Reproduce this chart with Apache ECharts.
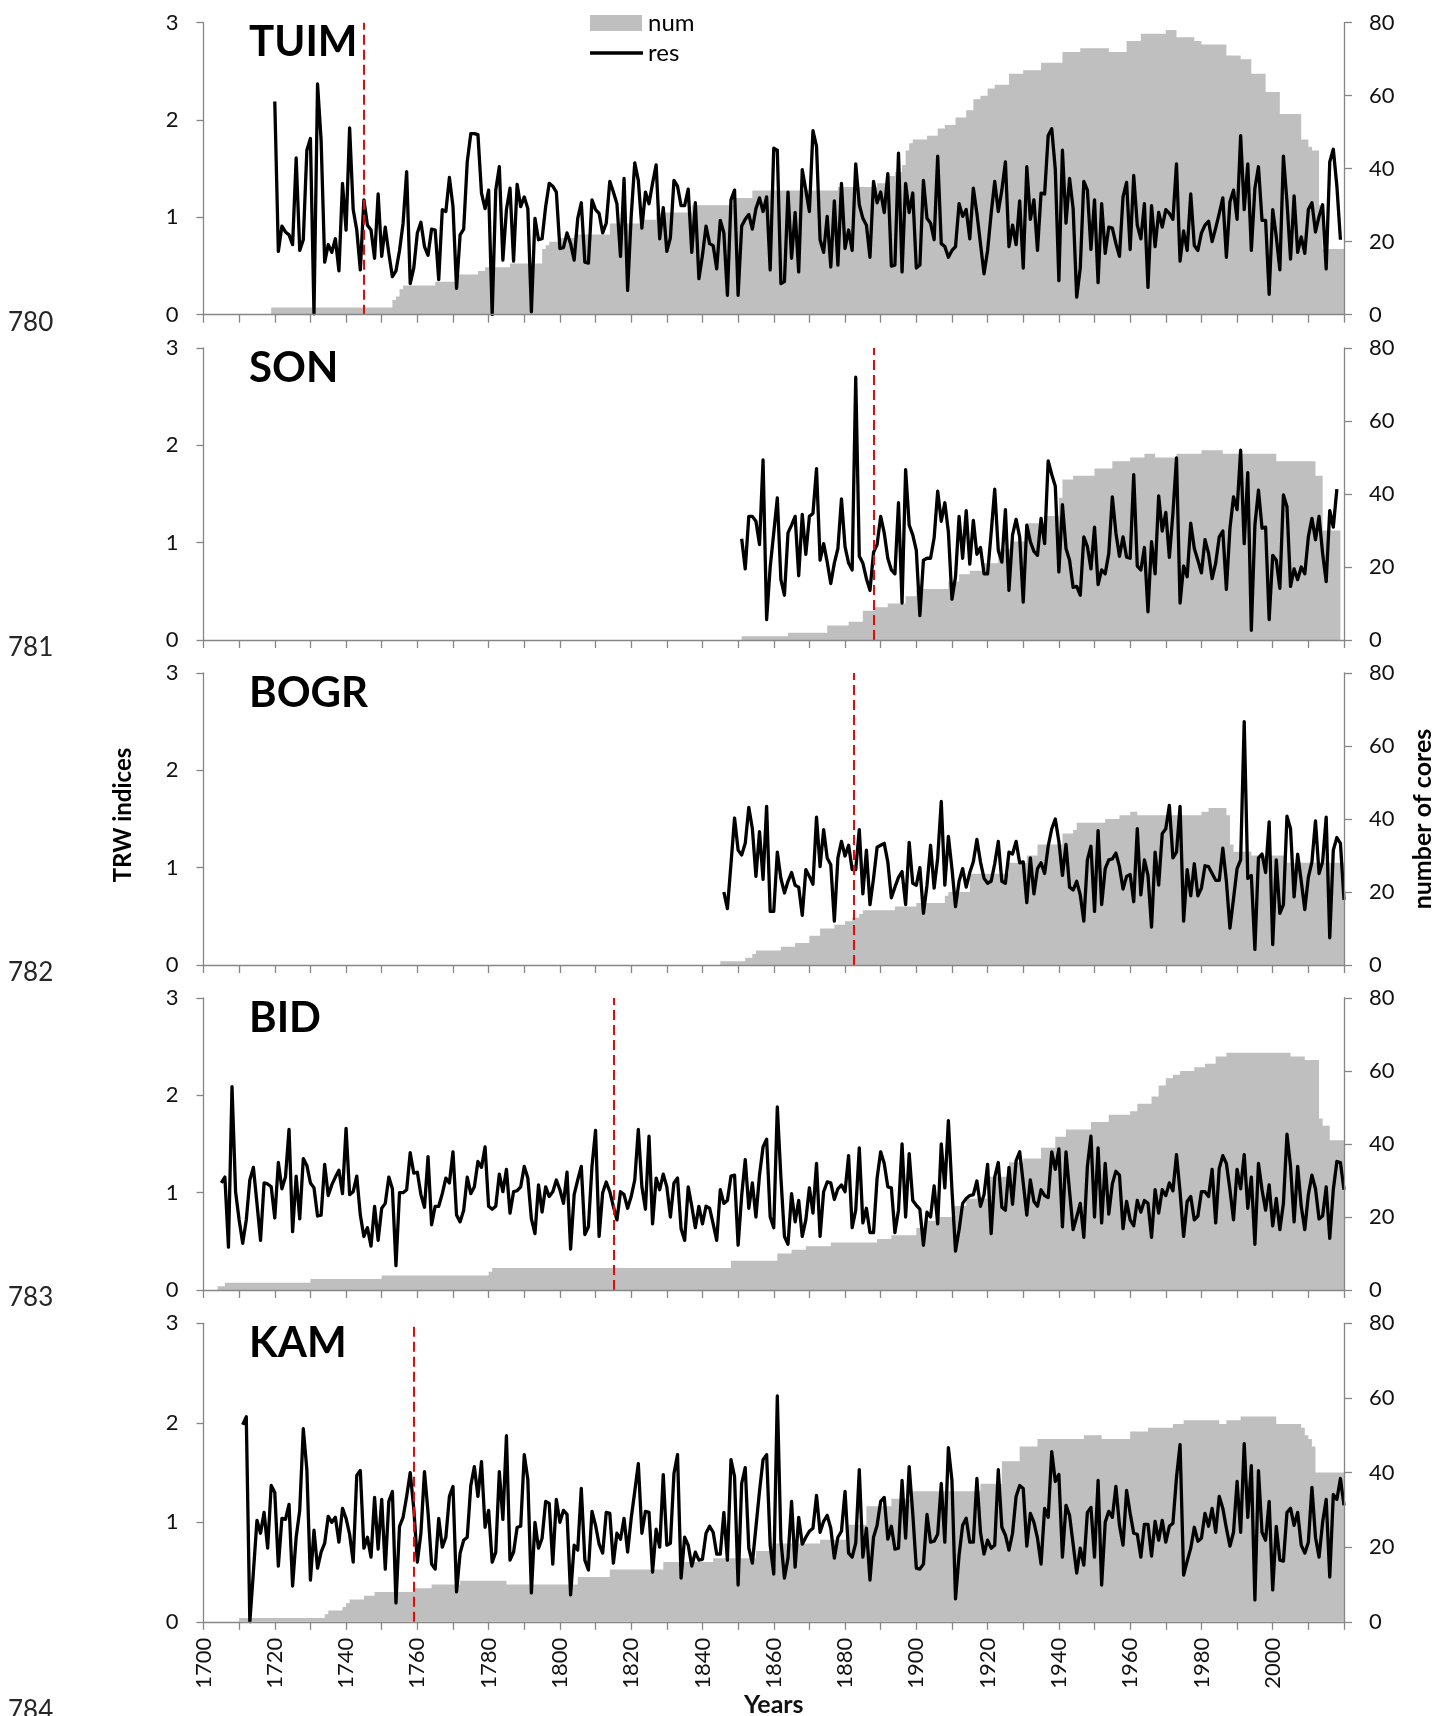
<!DOCTYPE html>
<html>
<head>
<meta charset="utf-8">
<title>TRW indices and number of cores</title>
<script src="https://cdn.jsdelivr.net/npm/echarts@6/dist/echarts.min.js"></script>
<style>
  html, body { margin: 0; padding: 0; background: #fff; }
  #chart { width: 1452px; height: 1716px; }
</style>
</head>
<body>
<div id="chart"></div>
<script>
// site names, first year of each res chronology and the red cut-off year
const sites = ['TUIM', 'SON', 'BOGR', 'BID', 'KAM']
const resStart = [1720, 1851, 1846, 1705, 1711]
const cutYears = [1745, 1888, 1882.5, 1815, 1759]
const lineNumbers = ['780', '781', '782', '783', '784']

// res (TRW indices), one value per year
const tuimRes = [
  2.19,0.65,0.91,0.85,0.82,0.72,1.61,0.66,0.77,1.69,
  1.81,0.01,2.37,1.79,0.54,0.72,0.64,0.78,0.45,1.35,
  0.87,1.92,1.08,0.87,0.46,1.18,0.92,0.87,0.58,1.24,
  0.60,0.90,0.63,0.39,0.45,0.66,0.94,1.47,0.32,0.48,
  0.84,0.95,0.70,0.61,0.88,0.87,0.36,1.08,1.06,1.41,
  1.11,0.27,0.82,0.88,1.57,1.86,1.86,1.85,1.25,1.09,
  1.28,0.00,1.28,1.52,0.56,1.08,1.30,0.55,1.34,1.11,
  1.21,1.09,0.03,0.99,0.77,0.78,1.11,1.35,1.32,1.26,
  0.68,0.69,0.84,0.73,0.56,0.99,1.15,0.54,0.53,1.18,
  1.08,1.04,0.84,0.94,1.37,1.26,1.14,0.60,1.40,0.25,
  1.01,1.56,1.38,0.89,1.26,1.14,1.35,1.54,0.78,1.10,
  0.65,0.79,1.38,1.32,1.12,1.12,1.29,0.64,1.15,0.37,
  0.61,0.91,0.73,0.71,0.47,0.97,0.84,0.20,1.18,1.28,
  0.20,0.91,0.98,1.03,0.88,1.09,1.20,1.06,1.21,0.46,
  1.71,1.69,0.32,0.34,1.26,0.58,1.05,0.44,1.49,1.28,
  1.06,1.89,1.73,0.77,0.64,1.01,0.49,1.17,0.51,1.35,
  0.68,0.87,0.66,1.55,1.13,0.99,0.92,0.59,1.37,1.15,
  1.26,1.05,1.45,0.50,0.51,1.66,0.44,1.35,1.05,1.25,
  0.48,0.51,1.38,0.99,0.94,0.77,1.63,0.73,0.70,0.59,
  0.66,0.70,1.14,1.01,1.08,0.78,1.30,1.04,0.73,0.42,
  0.66,1.04,1.37,1.06,1.28,1.57,0.70,0.92,0.72,1.17,
  0.48,1.52,0.98,1.18,0.66,1.25,1.24,1.84,1.91,1.49,
  0.35,1.69,0.94,1.40,1.09,0.18,0.48,1.37,1.28,0.67,
  1.18,0.33,1.14,0.63,0.90,0.89,0.73,0.60,1.21,1.36,
  0.67,1.43,0.92,0.78,1.14,0.28,1.12,0.70,1.05,0.90,
  1.08,1.04,0.98,1.55,0.55,0.86,0.66,1.24,0.71,0.66,
  0.84,0.92,0.96,0.75,0.89,1.04,1.20,0.59,1.16,1.28,
  0.98,1.84,1.08,1.55,0.66,1.30,1.52,0.97,0.97,0.21,
  1.08,0.80,0.46,1.63,1.16,0.57,1.22,0.64,0.80,0.63,
  1.08,1.15,0.85,1.01,1.13,0.47,1.57,1.70,1.32,0.77
]
const sonRes = [
  1.04,0.73,1.27,1.27,1.22,0.98,1.85,0.21,0.75,
  1.10,1.46,0.62,0.46,1.10,1.18,1.27,0.66,1.29,0.88,
  1.27,1.30,1.76,0.82,0.99,0.80,0.58,0.79,0.94,1.45,
  0.96,0.79,0.72,2.70,0.86,0.79,0.63,0.51,0.90,0.98,
  1.27,1.10,0.84,0.72,0.68,1.41,0.38,1.75,1.18,1.08,
  0.92,0.25,0.82,0.84,0.84,1.05,1.53,1.22,1.41,1.11,
  0.42,0.65,1.27,0.84,1.33,0.78,1.23,0.88,0.95,0.68,
  0.68,1.10,1.55,0.92,0.80,1.34,0.51,1.08,1.24,1.06,
  0.39,1.18,1.01,0.91,0.87,1.25,0.99,1.84,1.70,1.58,
  0.70,1.39,0.94,0.82,0.54,0.55,0.46,1.06,0.96,0.73,
  1.16,0.57,0.72,0.68,0.89,1.47,1.10,0.86,1.06,0.85,
  0.84,1.70,0.76,0.72,0.95,0.29,1.01,0.68,1.48,1.12,
  1.31,0.85,1.30,1.87,0.38,0.76,0.65,1.20,0.94,0.82,
  0.69,1.03,0.89,0.63,0.79,1.06,1.12,0.52,1.15,1.47,
  1.34,1.95,0.99,1.72,0.10,1.18,1.54,1.15,1.16,0.21,
  0.87,0.82,0.53,1.49,1.37,0.55,0.73,0.62,0.75,0.68,
  1.06,1.25,1.03,1.27,0.89,0.60,1.33,1.16,1.55
]
const bogrRes = [
  0.75,0.58,1.04,1.51,
  1.18,1.13,1.25,1.62,1.40,0.91,1.37,0.88,1.63,0.55,
  0.55,1.16,0.89,0.74,0.86,0.95,0.82,0.80,0.51,0.98,
  0.91,0.83,1.52,1.01,1.39,1.10,1.03,0.45,1.10,1.27,
  1.12,1.23,0.98,0.98,1.39,0.73,1.18,0.62,0.89,1.21,
  1.23,1.25,1.06,0.69,0.80,0.90,0.96,0.62,1.26,0.84,
  0.82,1.00,0.53,0.82,1.23,0.79,1.10,1.68,0.82,1.32,
  0.99,0.60,0.86,0.99,0.80,0.95,1.06,1.29,1.06,0.89,
  0.84,0.86,1.04,1.27,0.86,0.84,1.16,1.14,1.27,1.05,
  1.06,0.64,1.10,0.73,0.99,1.05,0.94,1.22,1.40,1.50,
  1.27,0.92,1.24,0.80,0.77,0.86,0.72,0.45,1.08,1.22,
  0.55,1.38,0.62,0.99,1.08,1.09,1.15,1.01,0.78,0.91,
  0.93,0.65,1.40,0.72,1.08,0.92,0.39,1.16,0.82,1.35,
  1.40,1.64,1.10,1.16,1.63,0.45,0.98,0.71,1.04,0.71,
  0.79,1.02,1.01,0.94,0.87,0.87,1.20,0.86,0.38,0.68,
  0.99,1.08,2.50,0.89,0.92,0.16,1.10,1.14,0.95,1.47,
  0.21,1.08,0.53,0.62,1.53,1.40,0.70,1.14,0.86,0.57,
  0.90,1.06,1.48,0.94,1.06,1.52,0.28,1.18,1.31,1.25,
  0.67
]
const bidRes = [
  1.10,1.16,0.44,2.09,1.01,
  0.72,0.48,0.72,1.13,1.26,0.89,0.51,1.10,1.09,1.06,
  0.74,1.31,1.04,1.16,1.65,0.60,1.17,0.73,1.35,1.28,
  1.10,1.05,0.76,0.77,1.29,0.97,1.08,1.16,1.23,0.99,
  1.66,0.98,1.01,1.17,0.77,0.55,0.64,0.45,0.86,0.51,
  0.84,0.89,1.16,1.04,0.25,1.00,1.00,1.03,1.41,1.20,
  1.21,0.98,0.85,1.37,0.67,0.86,0.86,0.99,1.15,1.10,
  1.42,0.77,0.70,0.82,1.16,0.99,1.06,1.32,1.26,1.47,
  0.86,0.83,0.86,1.19,1.01,1.24,0.79,1.01,1.02,1.06,
  1.27,1.15,0.73,0.58,1.08,0.80,1.06,0.96,1.01,1.13,
  1.03,0.89,1.21,0.42,0.98,1.13,1.27,0.57,0.65,1.27,
  1.64,0.55,1.00,1.11,1.01,0.86,0.72,1.01,0.98,0.84,
  0.96,1.13,1.65,1.06,0.83,1.58,0.68,1.15,1.03,1.19,
  1.06,0.75,1.10,1.15,0.63,0.51,1.06,0.86,0.64,0.86,
  0.68,0.86,0.84,0.68,0.51,1.03,0.89,0.92,1.17,1.18,
  0.46,0.97,1.34,0.84,1.10,0.75,1.18,1.47,1.55,0.75,
  0.64,1.88,1.16,0.55,0.47,0.99,0.70,0.92,0.55,0.72,
  1.05,0.79,1.30,0.55,1.01,1.11,1.10,0.93,1.04,1.08,
  1.01,1.38,0.64,0.82,1.46,0.69,0.84,0.59,0.59,1.15,
  1.42,1.30,1.06,1.05,0.59,0.82,1.50,0.75,1.40,0.92,
  0.87,0.83,0.46,0.80,0.75,1.07,0.68,1.50,1.05,1.74,
  1.03,0.40,0.62,0.89,0.94,0.97,0.98,1.12,0.86,0.98,
  1.29,0.58,1.16,1.31,0.85,0.82,1.26,0.88,1.33,1.42,
  1.10,0.77,1.13,0.91,0.86,1.03,0.97,0.95,1.42,1.24,
  1.45,0.65,1.42,1.01,0.62,0.75,0.89,0.54,1.27,1.58,
  0.75,1.46,0.69,1.30,0.78,1.09,1.22,1.18,0.63,0.91,
  0.72,0.66,0.92,0.80,0.92,0.89,0.54,1.03,0.79,1.03,
  0.97,1.10,1.02,1.39,1.01,0.55,0.91,0.96,0.72,0.76,
  1.01,1.01,0.96,1.24,0.69,1.25,1.38,1.30,1.03,0.72,
  1.24,1.04,1.39,0.84,1.16,0.47,1.30,1.03,0.82,1.08,
  0.66,0.94,0.62,0.89,1.60,1.27,0.70,1.27,0.86,0.62,
  0.98,1.18,1.04,0.73,0.76,1.06,0.53,1.03,1.32,1.31,
  1.03
]
const kamRes = [
  1.98,2.06,0.00,0.50,1.02,0.89,1.10,0.74,1.37,
  1.30,0.56,1.04,1.03,1.18,0.36,0.85,1.12,1.94,1.53,
  0.42,0.92,0.54,0.70,0.79,1.06,1.00,1.05,0.80,1.14,
  1.04,0.88,0.60,1.47,1.52,0.74,0.85,0.65,1.25,0.73,
  1.23,0.53,1.21,1.31,0.19,0.96,1.05,1.26,1.50,1.14,
  0.60,0.89,1.51,1.10,0.58,0.53,1.04,0.75,0.85,1.26,
  1.36,0.30,0.69,0.82,0.85,1.37,1.56,1.26,1.61,0.95,
  1.12,0.60,0.70,1.51,1.03,1.87,0.62,0.70,0.95,0.96,
  1.68,1.43,0.29,1.00,0.74,0.84,1.21,1.19,0.58,1.23,
  1.00,1.12,1.08,0.27,0.77,0.72,1.34,0.62,0.52,1.11,
  0.97,0.78,0.69,1.10,1.09,0.59,0.89,0.83,1.04,0.70,
  1.04,1.31,1.59,0.89,1.11,1.10,0.50,0.93,0.75,1.48,
  0.77,0.79,1.49,1.68,0.44,0.85,0.77,0.56,0.70,0.62,
  0.63,0.89,0.96,0.90,0.68,0.68,1.10,0.62,1.63,1.46,
  0.37,1.39,1.55,0.74,0.59,0.95,1.31,1.63,1.68,0.77,
  0.48,2.27,0.82,0.44,0.64,1.21,0.55,1.05,0.78,0.85,
  0.91,0.94,1.27,0.90,1.01,1.07,0.94,0.64,0.85,0.91,
  1.31,0.69,0.65,0.79,1.53,0.65,0.94,0.42,0.85,0.97,
  1.21,1.25,0.83,0.96,0.73,0.74,1.42,0.84,1.56,1.09,
  0.54,0.53,0.58,1.08,0.80,0.81,0.88,1.39,0.80,1.75,
  1.42,0.23,0.67,0.97,1.04,0.80,0.80,1.44,0.90,0.68,
  0.82,0.74,0.77,1.53,0.95,0.87,0.72,0.89,1.26,1.37,
  1.34,0.76,1.09,1.00,0.84,0.58,1.14,1.05,1.71,1.41,
  1.48,0.65,1.17,1.07,0.78,0.49,0.74,0.57,1.10,1.15,
  0.65,1.42,0.37,1.00,1.11,1.05,1.36,0.97,0.77,1.32,
  1.09,0.89,0.88,0.65,0.98,0.98,0.66,1.01,0.82,1.02,
  0.80,0.96,0.99,1.45,1.78,0.47,0.61,0.74,0.95,0.81,
  0.84,1.09,0.96,1.14,0.90,1.26,1.14,0.94,0.76,0.90,
  1.41,0.90,1.79,1.05,1.57,0.22,1.52,0.90,0.82,1.21,
  0.32,0.96,0.62,0.61,1.10,1.14,0.97,1.10,0.77,0.69,
  0.80,1.35,0.85,0.65,1.00,1.23,0.45,1.28,1.23,1.44,
  1.17
]

// num (number of cores): year where the count changes, and the count from that year
const tuimNumYear = [1719,1753,1754,1755,1756,1765,1771,1777,1779,1786,1795,1796,1797,1800,1804,1809,1814,1823,1827,1837,
  1849,1854,1878,1889,1892,1894,1896,1897,1898,1899,1903,1906,1908,1911,1914,1916,1918,1920,1922,1926,
  1930,1935,1941,1946,1954,1959,1963,1970,1973,1978,1980,1987,1991,1994,1998,2002,2008,2010,2011,2013,2014,2020]
const tuimNumVal = [2,4,5,7,8,9,11,12,13,14,18,19,20,21,22,22,25,26,28,30,
  32,34,35,36,38,39,41,45,47,48,49,51,52,54,56,59,60,62,63,66,
  67,69,72,73,72,75,77,78,76,75,74,71,70,66,61,55,48,46,45,30,18,18]
const sonNumYear = [1851,1864,1875,1881,1885,1888,1892,1897,1900,1909,1912,1915,1919,1923,1927,1931,1936,1940,1941,1944,
  1948,1950,1955,1960,1964,1967,1973,1980,1986,2001,2012,2014,2019]
const sonNumVal = [1,2,4,5,8,9,10,12,14,16,18,19,21,25,27,32,34,39,44,45,
  45,47,49,50,51,50,51,52,51,49,45,30,30]
const bogrNumYear = [1845,1852,1854,1855,1862,1866,1870,1873,1877,1880,1882,1884,1885,1894,1900,1908,1909,1915,1926,1931,
  1934,1941,1944,1945,1953,1957,1960,1962,1980,1982,1987,1988,1989,1994,2004,2020]
const bogrNumVal = [1,2,3,4,5,6,8,10,11,12,13,14,15,16,17,19,20,25,28,30,
  33,36,37,39,40,41,42,41,42,43,41,33,31,30,28,28]
const bidNumYear = [1704,1706,1730,1750,1780,1781,1848,1861,1865,1869,1876,1889,1893,1900,1903,1906,1910,1914,1920,1926,
  1930,1935,1939,1942,1949,1954,1960,1962,1966,1968,1970,1972,1974,1978,1981,1984,1987,2005,2009,2013,2014,2016,2020]
const bidNumVal = [1,2,3,4,5,6,8,10,11,12,13,14,15,17,19,20,23,25,31,35,
  36,39,42,44,46,48,49,51,53,56,58,59,60,61,62,64,65,64,63,47,45,41,41]
const kamNumYear = [1710,1734,1735,1739,1740,1741,1745,1748,1759,1764,1772,1785,1805,1814,1829,1843,1855,1859,1873,1881,
  1886,1893,1899,1918,1924,1929,1934,1947,1952,1960,1965,1972,1975,1985,1987,1991,2001,2008,2009,2010,2011,2012,2020]
const kamNumVal = [1,2,3,4,5,6,7,8,9,10,11,10,12,14,16,17,19,21,22,26,
  31,33,35,37,43,47,49,50,49,51,52,53,54,53,54,55,53,52,50,49,47,40,40]

const resList = [tuimRes, sonRes, bogrRes, bidRes, kamRes]
const numYears = [tuimNumYear, sonNumYear, bogrNumYear, bidNumYear, kamNumYear]
const numVals = [tuimNumVal, sonNumVal, bogrNumVal, bidNumVal, kamNumVal]

// layout
const FONT = 'Lato'
const AXIS_GREY = '#868686'
const plotLeft = 203.5
const plotRight = 108
const panelTop = [22.7, 348, 673, 998, 1323.3]
const panelHeight = [292, 292, 292, 292, 298.5]
const lineNumberY = [323, 648, 973, 1298, 1711]

const chart = echarts.init(document.getElementById('chart'), null, { renderer: 'canvas' })

const axisLineStyle = { color: AXIS_GREY, width: 1.3 }
const grid = [], xAxis = [], yAxis = [], series = [], graphic = []

sites.forEach((site, i) => {
  const last = i === sites.length - 1
  grid.push({ left: plotLeft, right: plotRight, top: panelTop[i], height: panelHeight[i], outerBoundsMode: 'none' })

  xAxis.push({
    type: 'value', gridIndex: i, min: 1700, max: 2020, interval: 10,
    axisLine: { lineStyle: axisLineStyle },
    axisTick: { show: true, length: 8, lineStyle: axisLineStyle },
    splitLine: { show: false },
    axisLabel: {
      show: last, rotate: 90, margin: 16, fontSize: 22, fontFamily: FONT, color: '#111',
      formatter: v => (v % 20 === 0 && v < 2020) ? String(v) : ''
    },
    name: last ? 'Years' : '',
    nameLocation: 'middle', nameGap: 67,
    nameTextStyle: { fontFamily: FONT, fontWeight: 'bold', fontSize: 25, color: '#111' },
    z: 5
  })

  yAxis.push({
    type: 'value', gridIndex: i, min: 0, max: 3, interval: 1, position: 'left',
    axisLine: { show: true, lineStyle: axisLineStyle },
    axisTick: { show: true, length: 7, lineStyle: axisLineStyle },
    splitLine: { show: false },
    axisLabel: { margin: 25, fontSize: 22, fontFamily: FONT, color: '#111' },
    z: 5
  })
  yAxis.push({
    type: 'value', gridIndex: i, min: 0, max: 80, interval: 20, position: 'right',
    axisLine: { show: true, lineStyle: axisLineStyle },
    axisTick: { show: true, length: 8, lineStyle: axisLineStyle },
    splitLine: { show: false },
    axisLabel: { margin: 25, fontSize: 22, fontFamily: FONT, color: '#111' },
    z: 5
  })

  series.push({
    name: 'num', type: 'line', xAxisIndex: i, yAxisIndex: 2 * i + 1,
    step: 'end', symbol: 'none', silent: true, z: 1,
    lineStyle: { width: 0 },
    areaStyle: { color: '#bfbfbf', opacity: 1 },
    data: numYears[i].map((y, k) => [y, numVals[i][k]])
  })
  series.push({
    name: 'res', type: 'line', xAxisIndex: i, yAxisIndex: 2 * i,
    symbol: 'none', silent: true, z: 3,
    lineStyle: { color: '#000', width: 3.3, join: 'round' },
    data: resList[i].map((v, k) => [resStart[i] + k, v]),
    markLine: {
      silent: true, symbol: ['none', 'none'], label: { show: false },
      lineStyle: { color: '#ff0000', type: [10, 5], width: 2 },
      data: [{ xAxis: cutYears[i] }]
    }
  })

  graphic.push({
    type: 'text', x: 249, y: panelTop[i] + 20,
    style: { text: site, font: 'bold 42px ' + FONT, fill: '#000', align: 'left', verticalAlign: 'middle' }
  })
})

lineNumbers.forEach((t, i) => {
  graphic.push({
    type: 'text', x: 8, y: lineNumberY[i],
    style: { text: t, font: '26px ' + FONT, fill: '#262626', align: 'left', verticalAlign: 'middle' }
  })
})

// axis titles shared by all panels
graphic.push({
  type: 'text', x: 123.5, y: 815, rotation: Math.PI / 2,
  style: { text: 'TRW indices', font: 'bold 24px ' + FONT, fill: '#000', align: 'center', verticalAlign: 'middle' }
})
graphic.push({
  type: 'text', x: 1423, y: 819, rotation: Math.PI / 2,
  style: { text: 'number of cores', font: 'bold 25px ' + FONT, fill: '#000', align: 'center', verticalAlign: 'middle' }
})

// legend
graphic.push({ type: 'rect', shape: { x: 590, y: 15, width: 52, height: 16 }, style: { fill: '#bfbfbf' } })
graphic.push({ type: 'text', x: 648, y: 23, style: { text: 'num', font: '24px ' + FONT, fill: '#000', verticalAlign: 'middle' } })
graphic.push({ type: 'line', shape: { x1: 590, y1: 53, x2: 643, y2: 53 }, style: { stroke: '#000', lineWidth: 3.3 } })
graphic.push({ type: 'text', x: 648, y: 53, style: { text: 'res', font: '24px ' + FONT, fill: '#000', verticalAlign: 'middle' } })

chart.setOption({
  animation: false,
  backgroundColor: '#fff',
  textStyle: { fontFamily: FONT },
  grid: grid,
  xAxis: xAxis,
  yAxis: yAxis,
  series: series,
  graphic: graphic
})
</script>
</body>
</html>
